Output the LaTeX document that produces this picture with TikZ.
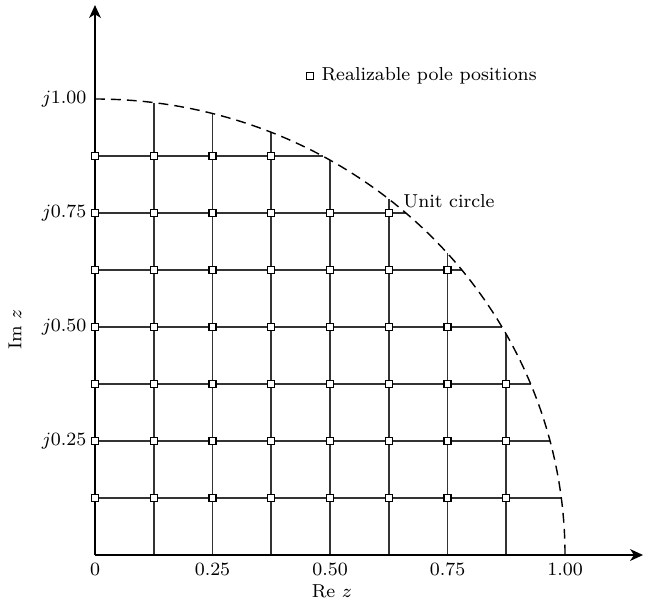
\documentclass[tikz,border=0pt]{standalone}
\usepackage{amsmath}
\usetikzlibrary{arrows.meta,calc}
\definecolor{gridgray}{rgb}{0.2,0.2,0.2}
\tikzset{
  pole/.style={draw=black, fill=white, line width=0.5pt, minimum size=3pt, inner sep=0pt},
  polegrid/.style={gridgray, line width=0.7pt},
  unitcircle/.style={black, line width=0.6pt, dash pattern=on 4.2pt off 2.6pt}
}

\begin{document}
\begin{tikzpicture}[x=7.05cm, y=6.84cm, font=\footnotesize]
          \useasboundingbox (-0.2021,-0.1096) rectangle (1.1723,1.2171);
          % grid lines, clipped at the unit circle
          \foreach \i in {1,...,7}{
            \draw[polegrid] (\i/8,0) -- (\i/8,{sqrt(1-(\i/8)^2)});
            \draw[polegrid] (0,\i/8) -- ({sqrt(1-(\i/8)^2)},\i/8);
          }
          % unit circle
          \draw[unitcircle] plot[domain=90:0, samples=120] ({cos(\x)},{sin(\x)});
          %axis
          \draw[line width=0.85pt, -{Stealth[length=5.5pt,width=5pt,inset=1.6pt]}] (0,0) -- (1.166,0);
          \draw[line width=0.85pt, -{Stealth[length=5.5pt,width=5pt,inset=1.6pt]}] (0,0) -- (0,1.206);
          % pole positions
          \foreach \j in {1,...,7}{
            \foreach \i in {0,...,7}{
              \pgfmathtruncatemacro\rr{\i*\i+\j*\j}
              \ifnum\rr<65 \node[pole] at (\i/8,\j/8) {}; \fi
            }
          }
          % tick labels
          \foreach \v/\t in {0/0,0.25/0.25,0.5/0.50,0.75/0.75,1/1.00}
            \node[below=2.3pt, inner sep=1pt] at (\v,0) {\t};
          \foreach \v/\t in {0.25/0.25,0.5/0.50,0.75/0.75,1/1.00}
            \node[left=2pt, inner sep=1.5pt] at (0,\v) {$j$\t};
          % axis labels
          \node[inner sep=0pt] at (0.504,-0.0785) {Re $z$};
          \node[rotate=90] at (-0.170,0.495) {Im $z$};
          % legend and circle label
          \node[pole] at (0.457,1.050) {};
          \node[anchor=west, inner sep=0pt] at (0.481,1.050) {Realizable pole positions};
          \node[anchor=base west, inner sep=0pt] at (0.655,0.761) {Unit circle};
        \end{tikzpicture}
\end{document}
